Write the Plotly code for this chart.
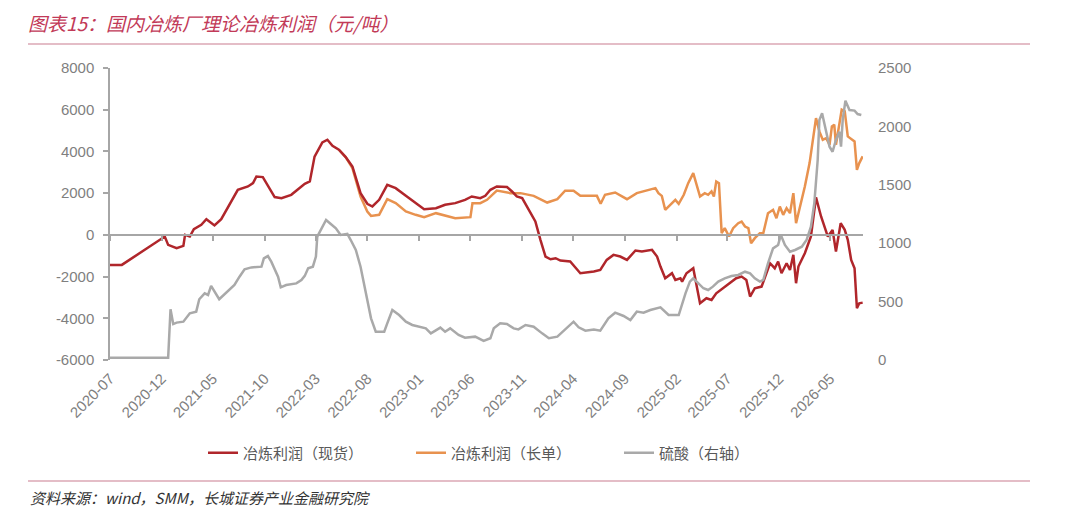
import plotly.graph_objects as go

# 冶炼利润（现货），元/吨
spot_dates = [
    '2020-07-01', '2020-08-05', '2020-12-10', '2020-12-20', '2021-01-14', '2021-02-03',
    '2021-02-08', '2021-02-22', '2021-03-06', '2021-03-28', '2021-04-12', '2021-05-06',
    '2021-05-26', '2021-06-14', '2021-07-14', '2021-08-13', '2021-08-28', '2021-09-07',
    '2021-09-26', '2021-10-31', '2021-11-20', '2021-12-19', '2022-01-13', '2022-01-28',
    '2022-02-12', '2022-02-26', '2022-03-21', '2022-04-05', '2022-04-20', '2022-05-09',
    '2022-05-29', '2022-06-18', '2022-07-12', '2022-08-01', '2022-08-16', '2022-09-05',
    '2022-09-29', '2022-10-24', '2022-11-23', '2022-12-22', '2023-01-16', '2023-02-20',
    '2023-03-19', '2023-04-18', '2023-05-17', '2023-06-06', '2023-07-01', '2023-07-16',
    '2023-07-31', '2023-08-19', '2023-09-18', '2023-10-03', '2023-10-17', '2023-11-02',
    '2023-11-16', '2023-12-11', '2023-12-26', '2024-01-10', '2024-01-25', '2024-02-09',
    '2024-02-23', '2024-03-23', '2024-04-22', '2024-06-01', '2024-06-20', '2024-07-09',
    '2024-07-29', '2024-08-18', '2024-09-07', '2024-10-02', '2024-10-21', '2024-11-20',
    '2024-12-05', '2024-12-15', '2024-12-29', '2025-01-18', '2025-01-28', '2025-02-12',
    '2025-02-17', '2025-03-02', '2025-03-22', '2025-04-11', '2025-04-30', '2025-05-15',
    '2025-05-29', '2025-06-23', '2025-07-08', '2025-07-27', '2025-08-12', '2025-08-26',
    '2025-09-06', '2025-09-20', '2025-10-10', '2025-10-20', '2025-11-04', '2025-11-18',
    '2025-11-28', '2025-12-08', '2025-12-23', '2026-01-02', '2026-01-12', '2026-01-20',
    '2026-01-27', '2026-02-15', '2026-03-05', '2026-03-20', '2026-04-04', '2026-04-24',
    '2026-05-08', '2026-05-18', '2026-06-01', '2026-06-13', '2026-06-22', '2026-07-02',
    '2026-07-12', '2026-07-19', '2026-07-26', '2026-08-05',
]
spot_vals = [
    -1440, -1440, -80, -480, -640, -530,
    0, -80, 270, 480, 750, 450,
    750, 1280, 2160, 2320, 2480, 2800,
    2770, 1810, 1760, 1920, 2240, 2450,
    2560, 3750, 4430, 4560, 4270, 4080,
    3730, 3280, 2000, 1490, 1360, 1680,
    2400, 2240, 1870, 1520, 1230, 1280,
    1440, 1520, 1680, 1840, 1760, 1870,
    2160, 2320, 2290, 2080, 1840, 1760,
    1360, 640, -240, -1040, -1170, -1120,
    -1230, -1280, -1840, -1760, -1680, -1200,
    -960, -1040, -1200, -750, -800, -720,
    -1040, -1520, -2080, -1840, -2160, -2080,
    -2240, -1840, -1600, -3280, -3040, -3120,
    -2800, -2480, -2320, -2080, -2000, -2160,
    -2960, -2560, -2480, -2000, -1360, -1600,
    -1280, -1840, -1360, -1680, -960, -2320,
    -1520, -880, -80, 1800, 880, -80,
    240, -800, 560, 240, -240, -1200,
    -1600, -3520, -3280, -3250,
]

# 冶炼利润（长单），元/吨
lt_dates = [
    '2022-05-09', '2022-05-29', '2022-06-18', '2022-07-12', '2022-08-01', '2022-08-12',
    '2022-09-05', '2022-09-29', '2022-10-24', '2022-11-23', '2022-12-22', '2023-01-16',
    '2023-02-20', '2023-03-19', '2023-04-18', '2023-06-02', '2023-06-08', '2023-07-01',
    '2023-07-21', '2023-08-19', '2023-09-28', '2023-10-28', '2023-12-06', '2024-01-15',
    '2024-02-14', '2024-03-08', '2024-04-02', '2024-04-22', '2024-06-10', '2024-06-21',
    '2024-07-04', '2024-08-03', '2024-09-07', '2024-10-06', '2024-11-15', '2024-11-30',
    '2024-12-09', '2024-12-19', '2024-12-29', '2025-01-13', '2025-01-28', '2025-02-07',
    '2025-02-22', '2025-03-07', '2025-03-22', '2025-04-01', '2025-04-11', '2025-04-25',
    '2025-05-05', '2025-05-15', '2025-05-22', '2025-05-29', '2025-06-06', '2025-06-14',
    '2025-06-23', '2025-07-06', '2025-07-18', '2025-08-02', '2025-08-12', '2025-08-22',
    '2025-09-01', '2025-09-09', '2025-09-20', '2025-10-05', '2025-10-15', '2025-10-29',
    '2025-11-13', '2025-11-23', '2025-12-03', '2025-12-13', '2025-12-23', '2026-01-02',
    '2026-01-12', '2026-01-20', '2026-02-01', '2026-02-15', '2026-03-01', '2026-03-10',
    '2026-03-20', '2026-03-30', '2026-04-09', '2026-04-19', '2026-04-29', '2026-05-06',
    '2026-05-13', '2026-05-18', '2026-05-28', '2026-06-04', '2026-06-13', '2026-06-22',
    '2026-07-12', '2026-07-19', '2026-07-26', '2026-08-05',
]
lt_vals = [
    4080, 3730, 3200, 1840, 1120, 910,
    960, 1710, 1520, 1120, 960, 850,
    1040, 910, 800, 850, 1520, 1520,
    1680, 2120, 2000, 2000, 1870, 1550,
    1710, 2120, 2120, 1870, 1870, 1490,
    1920, 2030, 1710, 2000, 2160, 2240,
    2000, 1870, 1200, 1440, 1680, 1490,
    1920, 2480, 2960, 2400, 1840, 2000,
    1920, 2080, 1840, 2560, 2480, 80,
    320, -80, 320, 560, 640, 400,
    320, -400, -160, 80, 80, 1040,
    1200, 800, 1360, 960, 1280, 1040,
    2000, 560, 1360, 2320, 3440, 4400,
    5600, 4960, 4560, 4640, 4320, 5200,
    5280, 4320, 5440, 6000, 5920, 4720,
    4480, 3120, 3440, 3760,
]

# 硫酸（右轴），元/吨
acid_dates = [
    '2020-07-01', '2020-12-20', '2020-12-27', '2021-01-04', '2021-01-14', '2021-02-03',
    '2021-02-22', '2021-03-13', '2021-03-22', '2021-04-07', '2021-04-17', '2021-04-26',
    '2021-05-20', '2021-06-14', '2021-07-04', '2021-07-19', '2021-08-03', '2021-08-23',
    '2021-09-22', '2021-09-29', '2021-10-11', '2021-10-21', '2021-11-10', '2021-11-18',
    '2021-12-04', '2022-01-03', '2022-01-18', '2022-01-28', '2022-02-07', '2022-02-21',
    '2022-03-02', '2022-03-06', '2022-03-16', '2022-04-01', '2022-04-15', '2022-04-30',
    '2022-05-14', '2022-06-03', '2022-06-13', '2022-06-28', '2022-07-12', '2022-07-27',
    '2022-08-12', '2022-08-26', '2022-09-20', '2022-09-29', '2022-10-14', '2022-11-03',
    '2022-11-23', '2022-12-12', '2023-01-21', '2023-02-05', '2023-03-05', '2023-03-19',
    '2023-04-03', '2023-04-28', '2023-05-17', '2023-06-16', '2023-07-11', '2023-07-31',
    '2023-08-10', '2023-08-29', '2023-09-18', '2023-10-08', '2023-10-22', '2023-11-12',
    '2023-12-06', '2023-12-31', '2024-01-20', '2024-02-14', '2024-03-08', '2024-04-02',
    '2024-04-17', '2024-05-07', '2024-06-01', '2024-06-20', '2024-07-14', '2024-08-03',
    '2024-08-28', '2024-09-17', '2024-10-06', '2024-10-26', '2024-11-15', '2024-12-15',
    '2025-01-08', '2025-02-07', '2025-02-27', '2025-03-12', '2025-03-22', '2025-04-06',
    '2025-04-21', '2025-05-05', '2025-05-19', '2025-06-04', '2025-06-23', '2025-07-13',
    '2025-08-02', '2025-08-22', '2025-09-06', '2025-09-20', '2025-10-05', '2025-10-15',
    '2025-10-29', '2025-11-13', '2025-11-28', '2025-12-06', '2025-12-18', '2026-01-02',
    '2026-01-17', '2026-02-06', '2026-02-20', '2026-03-05', '2026-03-15', '2026-03-25',
    '2026-03-30', '2026-04-07', '2026-04-19', '2026-04-29', '2026-05-08', '2026-05-18',
    '2026-05-28', '2026-06-02', '2026-06-07', '2026-06-15', '2026-06-27', '2026-07-12',
    '2026-07-21', '2026-08-01',
]
acid_vals = [
    20, 20, 434, 308, 320, 328,
    400, 414, 520, 571, 557, 634,
    520, 585, 642, 713, 776, 793,
    799, 870, 890, 842, 713, 622,
    642, 656, 685, 720, 785, 799,
    885, 1056, 1113, 1199, 1164, 1128,
    1070, 1079, 1027, 942, 799, 571,
    357, 242, 242, 314, 428, 385,
    328, 300, 271, 228, 277, 242,
    271, 214, 191, 200, 163, 186,
    271, 314, 308, 271, 262, 300,
    285, 228, 186, 200, 262, 328,
    280, 251, 262, 251, 357, 405,
    377, 342, 414, 405, 428, 451,
    385, 385, 571, 671, 699, 656,
    614, 599, 628, 671, 699, 719,
    728, 756, 742, 699, 671, 685,
    828, 956, 985, 1070, 985, 927,
    942, 970, 1027, 1141, 1342, 1712,
    2055, 2112, 1969, 1826, 1783, 1884,
    1955, 1826, 2055, 2220, 2140, 2135,
    2106, 2098,
]

left_ticks = [8000, 6000, 4000, 2000, 0, -2000, -4000, -6000]
left_labels = ['8000', '6000', '4000', '2000', '0', '-2000', '-4000', '-6000']
right_ticks = [0, 500, 1000, 1500, 2000, 2500]

x_range = ['2020-07-01', '2026-08-06']
y_range = [-6000, 8000]
y2_range = [0, 2500]

RED = '#b0262b'
ORANGE = '#e8924f'
GRAY = '#a9a9a9'
AXIS = '#a6a6a6'
TICKFONT = dict(family='Liberation Sans, Noto Sans CJK SC', size=15, color='#7f7f7f')

# the page body has an 8px margin, so the figure is 8px smaller each way
W, H = 1072, 510

fig = go.Figure()

fig.add_trace(go.Scatter(x=acid_dates, y=acid_vals, name='硫酸（右轴）', yaxis='y2',
                         mode='lines', line=dict(color=GRAY, width=2.5), legendrank=3))
fig.add_trace(go.Scatter(x=lt_dates, y=lt_vals, name='冶炼利润（长单）',
                         mode='lines', line=dict(color=ORANGE, width=2.5), legendrank=2))
fig.add_trace(go.Scatter(x=spot_dates, y=spot_vals, name='冶炼利润（现货）',
                         mode='lines', line=dict(color=RED, width=2.5), legendrank=1))
# empty trace so the zero-line axis gets drawn
fig.add_trace(go.Scatter(x=[], y=[], xaxis='x2', showlegend=False, hoverinfo='skip'))

zero_pos = (0 - y_range[0]) / (y_range[1] - y_range[0])

fig.update_layout(
    width=W, height=H,
    margin=dict(l=102, r=217, t=60, b=158, autoexpand=False),
    paper_bgcolor='white', plot_bgcolor='white',
    font=dict(family='Noto Sans CJK SC, Liberation Sans', color='#595959'),
    title=dict(text='图表15：国内冶炼厂理论冶炼利润（元/吨）',
               xref='container', yref='container', x=20 / W, y=1 - 16 / H,
               xanchor='left', yanchor='middle',
               font=dict(family='Noto Sans CJK SC', size=19, color='#c23a58', style='italic')),
    xaxis=dict(type='date', range=x_range, tick0='2020-07-01', dtick='M5',
               tickformat='%Y-%m', tickangle=-45, showline=False, ticks='',
               showgrid=False, zeroline=False, ticklabelstandoff=6,
               tickfont=dict(TICKFONT, size=15)),
    xaxis2=dict(type='date', overlaying='x', anchor='free', position=zero_pos,
                range=x_range, tick0='2020-07-01', dtick='M5', showticklabels=False,
                showline=True, linecolor=AXIS, linewidth=1.5, ticks='outside',
                ticklen=5, tickcolor=AXIS, tickwidth=1.5, showgrid=False, zeroline=False),
    yaxis=dict(range=y_range, tickvals=left_ticks, ticktext=left_labels,
               showline=True, linecolor=AXIS, linewidth=1.5, ticks='outside',
               ticklen=5, tickcolor=AXIS, tickwidth=1.5, showgrid=False,
               zeroline=False, tickfont=TICKFONT, ticklabelstandoff=6),
    yaxis2=dict(overlaying='y', side='right', range=y2_range, tickvals=right_ticks,
                showline=False, ticks='', showgrid=False, zeroline=False,
                tickfont=TICKFONT, ticklabelstandoff=14),
    legend=dict(orientation='h', xref='container', yref='container',
                x=195 / W, y=1 - 445 / H, xanchor='left', yanchor='middle',
                entrywidth=163, font=dict(size=15, color='#595959'),
                bgcolor='rgba(0,0,0,0)'),
    showlegend=True,
)

# pink rules under the title and above the source line
x0 = (28 - 110) / 753
x1 = (1030 - 110) / 753
for yy in [(360 - 44) / 292, (360 - 481) / 292]:
    fig.add_shape(type='line', xref='paper', yref='paper', x0=x0, x1=x1, y0=yy, y1=yy,
                  line=dict(color='#dba7b4', width=1.5))

fig.add_annotation(text='资料来源：wind，SMM，长城证券产业金融研究院',
                   xref='paper', yref='paper', x=x0, y=(360 - 497) / 292,
                   xanchor='left', yanchor='middle', showarrow=False,
                   font=dict(family='Noto Sans CJK SC', size=15, color='#333333', style='italic'))

fig.write_html('out.html')
